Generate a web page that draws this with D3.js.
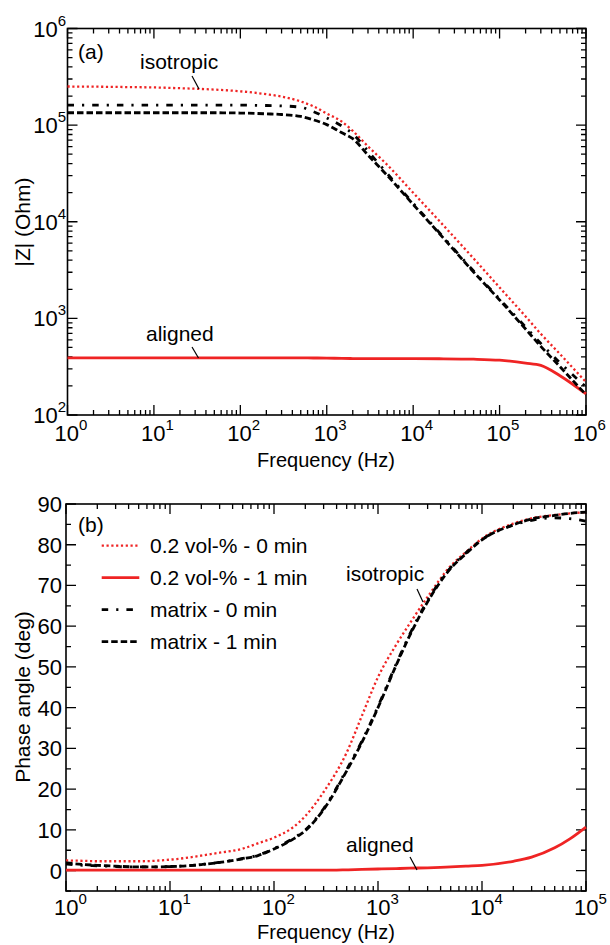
<!DOCTYPE html>
<html>
<head>
<meta charset="utf-8">
<script src="https://cdn.jsdelivr.net/npm/d3@7"></script>
<style>
body { margin: 0; background: #fff; }
text { font-family: "Liberation Sans", Arial, Helvetica, sans-serif; fill: #000; }
</style>
</head>
<body>
<script>
// ---- panel (a): impedance modulus ----
var freqA = [1, 2, 5, 10, 20, 50, 100, 200, 300, 500, 700, 1000, 1500, 2000, 3000, 5000,
             1e4, 2e4, 5e4, 1e5, 2e5, 3e5, 5e5, 1e6];
var zIso0 = [251000, 250000, 247700, 245500, 241000, 233300, 223900, 208900, 197700, 175800,
             156700, 131800, 108400, 87100, 60300, 38900, 19950, 10230, 4170, 2090, 1047, 692, 427, 219];
var zAli1 = [391, 391, 391, 391, 391, 391, 391, 391, 390, 390, 389, 388, 385, 384, 383, 383,
             383, 382, 378, 369, 345, 326, 255, 165];
var zMat0 = [161400, 161400, 161400, 161400, 161400, 161400, 161100, 159600, 158100, 153100,
             138000, 118900, 97700, 81300, 53700, 31600, 15500, 7760, 3090, 1585, 813, 550, 347, 195];
var zMat1 = [134300, 134300, 134300, 134300, 134300, 134300, 133400, 130900, 128800, 123000,
             113500, 101200, 83200, 72400, 49000, 30200, 15100, 7590, 3020, 1550, 776, 513, 316, 162];

// ---- panel (b): phase angle ----
var freqB = [1, 1.5, 2, 3, 5, 7, 10, 15, 20, 30, 50, 70, 100, 150, 200, 300, 500, 700, 1000,
             1500, 2000, 3000, 5000, 7000, 1e4, 2e4, 3e4, 5e4, 7e4, 1e5];
var phIso0 = [2.5, 2.4, 2.3, 2.3, 2.3, 2.4, 2.7, 3.2, 3.7, 4.4, 5.4, 6.7, 8.1, 10.5, 13.4, 19.3,
              29.0, 38.0, 47.5, 55.5, 60.5, 67.2, 74.8, 78.2, 81.5, 85.2, 86.5, 87.3, 87.7, 88.0];
var phAli1 = [0.1, 0.1, 0.1, 0.1, 0.1, 0.1, 0.1, 0.1, 0.1, 0.1, 0.1, 0.1, 0.1, 0.1, 0.1, 0.1,
              0.2, 0.3, 0.4, 0.5, 0.6, 0.7, 0.9, 1.1, 1.3, 2.3, 3.3, 5.6, 7.8, 10.7];
var phMat0 = [1.6, 1.3, 1.2, 1.0, 0.9, 0.9, 1.0, 1.2, 1.5, 2.0, 3.0, 3.8, 5.4, 7.8, 10.0, 15.2,
              24.8, 31.8, 40.3, 50.8, 57.8, 66.3, 74.4, 78.0, 81.3, 84.8, 86.0, 86.6, 86.4, 85.8];
var phMat1 = [1.9, 1.5, 1.3, 1.1, 0.9, 0.9, 1.0, 1.2, 1.5, 2.0, 2.9, 3.7, 5.3, 7.6, 9.8, 15.0,
              24.5, 31.5, 40.0, 50.5, 57.5, 66.0, 74.2, 77.8, 81.2, 84.9, 86.3, 87.2, 87.7, 88.0];

var seriesNames = ["0.2 vol-% - 0 min", "0.2 vol-% - 1 min", "matrix - 0 min", "matrix - 1 min"];

// tick labels
var xExpA = [0, 1, 2, 3, 4, 5, 6];
var yExpA = [2, 3, 4, 5, 6];
var xExpB = [0, 1, 2, 3, 4, 5];
var yTicksB = [0, 10, 20, 30, 40, 50, 60, 70, 80, 90];

var RED = "#ef2424";
var styles = [
	{color: RED, width: 2.3, dash: "2.2,2.6"},
	{color: RED, width: 2.8, dash: null},
	{color: "#000", width: 2.8, dash: "6.5,8,2.2,8"},
	{color: "#000", width: 2.8, dash: "6.5,3"}
];

var svg = d3.select("body").append("svg")
	.attr("width", 610)
	.attr("height", 945);

var xA = d3.scaleLog().domain([1, 1e6]).range([67.5, 586]);
var yA = d3.scaleLog().domain([1e2, 1e6]).range([415, 28.5]);
var xB = d3.scaleLog().domain([1, 1e5]).range([66, 586]);
var yB = d3.scaleLinear().domain([-5, 90]).range([891, 504]);

function isDecade(d){
	var l = Math.log10(d);
	return Math.abs(l - Math.round(l)) < 1e-6;
}

function drawTicks(g, x, y, xt, yt){
	var x0 = x.range()[0], x1 = x.range()[1];
	var y0 = y.range()[0], y1 = y.range()[1];
	g.selectAll(".xt").data(xt).enter().append("path")
		.attr("d", function(d){
			var px = x(d.v);
			return "M" + px + "," + y0 + "v" + (-d.len) + "M" + px + "," + y1 + "v" + d.len;
		})
		.attr("stroke", "#000").attr("stroke-width", 1.3);
	g.selectAll(".yt").data(yt).enter().append("path")
		.attr("d", function(d){
			var py = y(d.v);
			return "M" + x0 + "," + py + "h" + d.len + "M" + x1 + "," + py + "h" + (-d.len);
		})
		.attr("stroke", "#000").attr("stroke-width", 1.3);
	g.append("rect")
		.attr("x", x0).attr("y", y1)
		.attr("width", x1 - x0).attr("height", y0 - y1)
		.attr("fill", "none").attr("stroke", "#000").attr("stroke-width", 1.6);
}

function logTicks(scale){
	return scale.ticks().map(function(d){ return {v: d, len: isDecade(d) ? 10 : 5}; });
}

// ---- panel (a) ----
var gA = svg.append("g");
drawTicks(gA, xA, yA, logTicks(xA), logTicks(yA));

var lineA = d3.line()
	.x(function(d){ return xA(d[0]); })
	.y(function(d){ return yA(d[1]); })
	.curve(d3.curveMonotoneX);

[zIso0, zAli1, zMat0, zMat1].forEach(function(s, i){
	gA.append("path")
		.attr("d", lineA(freqA.map(function(f, j){ return [f, s[j]]; })))
		.attr("fill", "none")
		.attr("stroke", styles[i].color)
		.attr("stroke-width", styles[i].width)
		.attr("stroke-dasharray", styles[i].dash);
});

// tick labels (a)
gA.selectAll(".xl").data(xExpA).enter().append("text")
	.attr("x", function(d){ return xA(Math.pow(10, d)) - 13; })
	.attr("y", 441)
	.style("font-size", "22px")
	.each(function(d){
		var t = d3.select(this);
		t.append("tspan").text("10");
		t.append("tspan").attr("dy", -11).style("font-size", "15px").text(d);
	});
gA.selectAll(".yl").data(yExpA).enter().append("text")
	.attr("x", 66)
	.attr("y", function(d){ return yA(Math.pow(10, d)) + 8; })
	.attr("text-anchor", "end")
	.style("font-size", "22px")
	.each(function(d){
		var t = d3.select(this);
		t.append("tspan").text("10");
		t.append("tspan").attr("dy", -11).style("font-size", "15px").text(d);
	});

gA.append("text").attr("x", 326).attr("y", 467).attr("text-anchor", "middle")
	.style("font-size", "20px").text("Frequency (Hz)");
gA.append("text").attr("transform", "translate(30,222) rotate(-90)").attr("text-anchor", "middle")
	.style("font-size", "21px").text("|Z| (Ohm)");
gA.append("text").attr("x", 78).attr("y", 59).style("font-size", "21px").text("(a)");

gA.append("text").attr("x", 140).attr("y", 69).style("font-size", "21px").text("isotropic");
gA.append("line").attr("x1", 192).attr("y1", 76).attr("x2", 199).attr("y2", 89)
	.attr("stroke", "#000").attr("stroke-width", 1.2);
gA.append("text").attr("x", 146).attr("y", 341).style("font-size", "21px").text("aligned");
gA.append("line").attr("x1", 192).attr("y1", 347).attr("x2", 198.5).attr("y2", 358)
	.attr("stroke", "#000").attr("stroke-width", 1.2);

// ---- panel (b) ----
var gB = svg.append("g");
var yTB = d3.range(-5, 91, 5).map(function(d){ return {v: d, len: d % 10 === 0 ? 10 : 5}; });
drawTicks(gB, xB, yB, logTicks(xB), yTB);

var lineB = d3.line()
	.x(function(d){ return xB(d[0]); })
	.y(function(d){ return yB(d[1]); })
	.curve(d3.curveMonotoneX);

[phIso0, phAli1, phMat0, phMat1].forEach(function(s, i){
	gB.append("path")
		.attr("d", lineB(freqB.map(function(f, j){ return [f, s[j]]; })))
		.attr("fill", "none")
		.attr("stroke", styles[i].color)
		.attr("stroke-width", styles[i].width)
		.attr("stroke-dasharray", styles[i].dash);
});

gB.selectAll(".xl").data(xExpB).enter().append("text")
	.attr("x", function(d){ return xB(Math.pow(10, d)) - 12; })
	.attr("y", 915)
	.style("font-size", "22px")
	.each(function(d){
		var t = d3.select(this);
		t.append("tspan").text("10");
		t.append("tspan").attr("dy", -11).style("font-size", "15px").text(d);
	});
gB.selectAll(".yl").data(yTicksB).enter().append("text")
	.attr("x", 62)
	.attr("y", function(d){ return yB(d) + 8; })
	.attr("text-anchor", "end")
	.style("font-size", "22px")
	.text(function(d){ return d; });

gB.append("text").attr("x", 326).attr("y", 939).attr("text-anchor", "middle")
	.style("font-size", "20px").text("Frequency (Hz)");
gB.append("text").attr("transform", "translate(30,697) rotate(-90)").attr("text-anchor", "middle")
	.style("font-size", "21px").text("Phase angle (deg)");
gB.append("text").attr("x", 78).attr("y", 532).style("font-size", "21px").text("(b)");

gB.append("text").attr("x", 346).attr("y", 581).style("font-size", "21px").text("isotropic");
gB.append("line").attr("x1", 417).attr("y1", 589).attr("x2", 423).attr("y2", 602)
	.attr("stroke", "#000").attr("stroke-width", 1.2);
gB.append("text").attr("x", 346).attr("y", 852).style("font-size", "21px").text("aligned");
gB.append("line").attr("x1", 410).attr("y1", 857).attr("x2", 417).attr("y2", 870)
	.attr("stroke", "#000").attr("stroke-width", 1.2);

// legend
var leg = gB.selectAll(".leg").data(seriesNames).enter().append("g")
	.attr("transform", function(d, i){ return "translate(0," + (545.7 + i * 32) + ")"; });
leg.append("line")
	.attr("x1", 101.7).attr("x2", 139.3).attr("y1", 0).attr("y2", 0)
	.attr("stroke", function(d, i){ return styles[i].color; })
	.attr("stroke-width", function(d, i){ return styles[i].width; })
	.attr("stroke-dasharray", function(d, i){ return styles[i].dash; });
leg.append("text").attr("x", 150).attr("y", 7.5)
	.style("font-size", "21px")
	.text(function(d){ return d; });
</script>
</body>
</html>
